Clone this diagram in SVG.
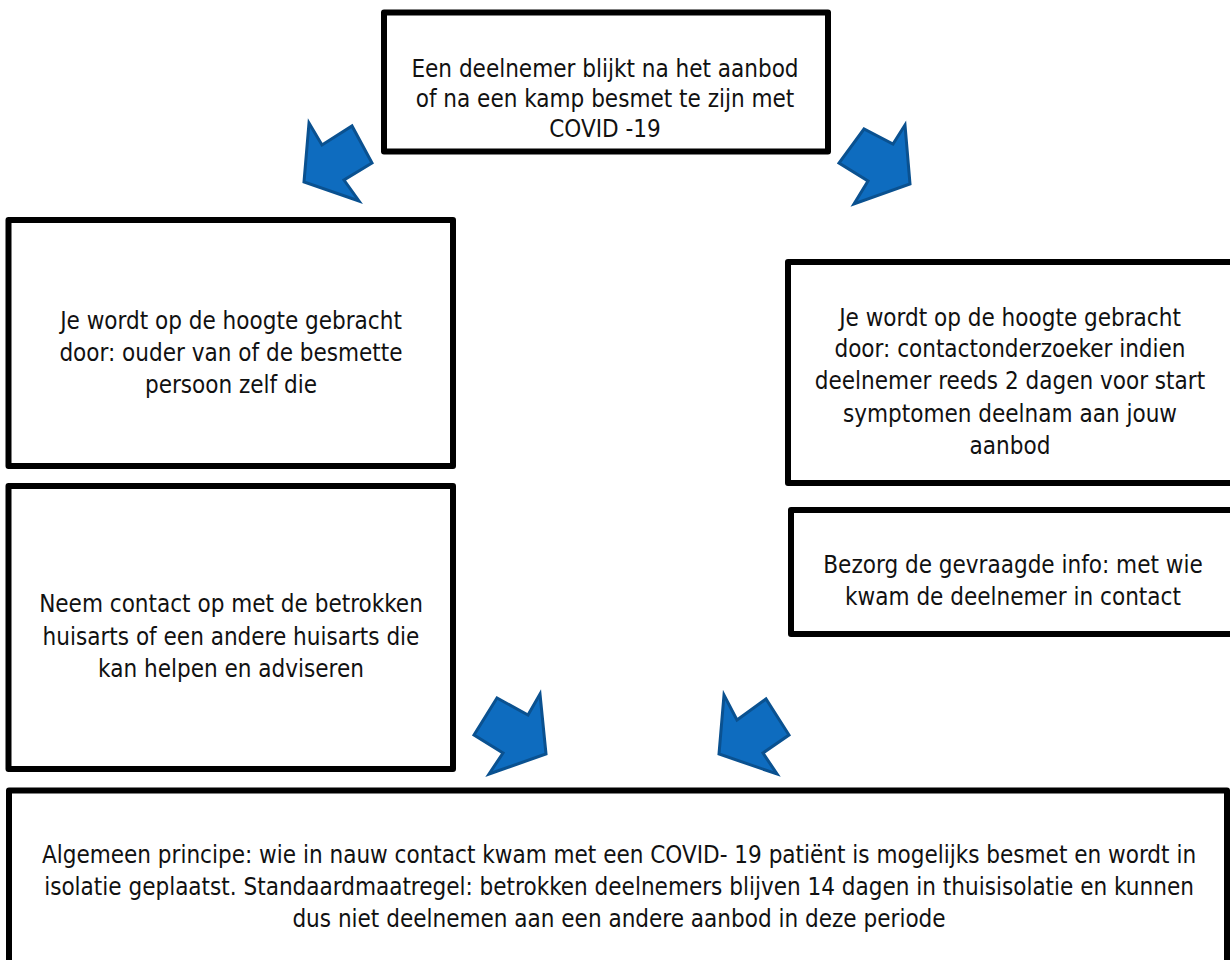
<svg xmlns="http://www.w3.org/2000/svg" width="1230" height="960" viewBox="0 0 1230 960">
<style>
.box{fill:#fff;stroke:#000;stroke-width:6;stroke-linejoin:round}
.t{font-family:"DejaVu Sans Condensed","Liberation Sans",sans-serif;font-size:24px;fill:#111;text-anchor:middle}
.arr{fill:#0e6cbf;stroke:#0a5190;stroke-width:3;stroke-linejoin:miter}
</style>
<rect width="1230" height="960" fill="#fff"/>
<g id="connectors">
<polygon class="arr" points="304,182 309,123 322,145 352,126 372,163 344,180 359,201"/>
<polygon class="arr" points="910,184 905,125 893,144 864,129 839,163 868,181 854,204"/>
<polygon class="arr" points="546,754 540,694 528,715 497,698 474,735 503,753 489,774"/>
<polygon class="arr" points="719,754 724,695 737,720 766,699 789,735 763,753 777,774"/>
</g>
<g id="n1">
<rect class="box" x="384" y="12.5" width="444" height="139"/>
<text class="t" x="605" y="77">Een deelnemer blijkt na het aanbod</text>
<text class="t" x="605" y="107">of na een kamp besmet te zijn met</text>
<text class="t" x="605" y="137">COVID -19</text>
</g>
<g id="n2">
<rect class="box" x="8.5" y="220" width="444.5" height="246"/>
<text class="t" x="231" y="329">Je wordt op de hoogte gebracht</text>
<text class="t" x="231" y="361">door: ouder van of de besmette</text>
<text class="t" x="231" y="393">persoon zelf die</text>
</g>
<g id="n3">
<rect class="box" x="8.5" y="486" width="444.5" height="283"/>
<text class="t" x="231" y="612">Neem contact op met de betrokken</text>
<text class="t" x="231" y="645">huisarts of een andere huisarts die</text>
<text class="t" x="231" y="677">kan helpen en adviseren</text>
</g>
<g id="n4">
<rect class="box" x="788" y="262" width="446" height="221"/>
<text class="t" x="1010" y="326">Je wordt op de hoogte gebracht</text>
<text class="t" x="1010" y="357">door: contactonderzoeker indien</text>
<text class="t" x="1010" y="389">deelnemer reeds 2 dagen voor start</text>
<text class="t" x="1010" y="422">symptomen deelnam aan jouw</text>
<text class="t" x="1010" y="454">aanbod</text>
</g>
<g id="n5">
<rect class="box" x="791" y="510" width="443" height="124"/>
<text class="t" x="1013" y="573">Bezorg de gevraagde info: met wie</text>
<text class="t" x="1013" y="605">kwam de deelnemer in contact</text>
</g>
<g id="n6">
<rect class="box" x="9" y="790.5" width="1218" height="190"/>
<text class="t" x="619" y="863">Algemeen principe: wie in nauw contact kwam met een COVID- 19 patiënt is mogelijks besmet en wordt in</text>
<text class="t" x="619" y="895">isolatie geplaatst. Standaardmaatregel: betrokken deelnemers blijven 14 dagen in thuisisolatie en kunnen</text>
<text class="t" x="619" y="927">dus niet deelnemen aan een andere aanbod in deze periode</text>
</g>
</svg>
